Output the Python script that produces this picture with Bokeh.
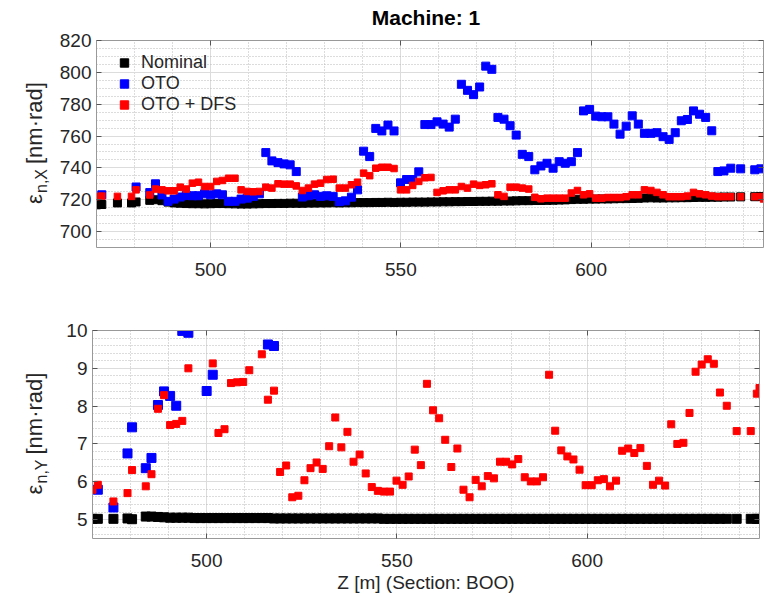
import math
import numpy as np
from bokeh.plotting import figure
from bokeh.layouts import column, row
from bokeh.models import (FixedTicker, LinearAxis, Range1d, Legend, LegendItem,
                          CustomJSTickFormatter)
from bokeh.core.properties import value
from bokeh.embed import file_html
from bokeh.resources import INLINE

FONT = "Liberation Sans"

# Longitudinal position of each monitor [m]
z = [470.0, 471.4, 475.5, 479.2, 480.4, 484.0, 485.5, 487.2, 488.8, 490.4,
     492.0, 493.6, 495.2, 496.8, 498.4, 500.0, 501.6, 503.1, 504.7, 506.4,
     508.0, 509.6, 511.2, 512.8, 514.5, 516.1, 517.7, 519.3, 520.9, 522.5,
     524.1, 525.7, 527.3, 528.9, 530.5, 532.2, 533.8, 535.4, 537.0, 538.6,
     540.2, 541.8, 543.4, 545.0, 546.6, 548.2, 549.9, 551.5, 553.1, 554.7,
     556.3, 557.9, 559.5, 561.1, 562.7, 564.3, 565.9, 567.5, 569.1, 570.7,
     572.3, 573.9, 575.5, 577.1, 578.7, 580.3, 581.9, 583.6, 585.2, 586.8,
     588.4, 590.0, 591.6, 593.2, 594.8, 596.4, 598.0, 599.6, 601.2, 602.8,
     604.4, 606.0, 607.6, 609.2, 610.8, 612.4, 614.0, 615.7, 617.3, 618.9,
     620.5, 622.1, 623.7, 625.3, 626.9, 628.5, 630.1, 631.7, 633.3, 634.9,
     636.7, 639.3, 643.0, 644.6, 645.3]

# Horizontal normalised emittance [nm rad]
emit_x_nominal = [716.8, 717.0, 718.0, 718.0, 718.6, 719.6, 720.0, 719.4, 718.5, 718.0,
                  717.8, 717.6, 717.5, 717.5, 717.4, 717.5, 717.6, 717.6, 717.5, 717.4,
                  717.3, 717.3, 717.4, 717.5, 717.6, 717.6, 717.7, 717.7, 717.8, 717.8,
                  717.8, 717.9, 717.9, 718.0, 718.0, 718.1, 718.0, 718.1, 718.1, 718.2,
                  718.2, 718.2, 718.3, 718.3, 718.4, 718.3, 718.4, 718.4, 718.5, 718.5,
                  718.5, 718.6, 718.6, 718.7, 718.7, 718.8, 718.8, 718.9, 718.9, 719.0,
                  719.0, 719.1, 719.1, 719.2, 719.2, 719.3, 719.4, 719.4, 719.5, 719.5,
                  719.6, 719.7, 719.8, 719.9, 720.1, 720.3, 720.3, 720.4, 720.4, 720.5,
                  720.5, 720.6, 720.7, 720.7, 720.8, 720.9, 721.1, 721.2, 721.1, 721.1,
                  721.2, 721.2, 721.3, 721.3, 721.4, 721.5, 721.5, 721.6, 721.6, 721.7,
                  721.7, 721.8, 721.9, 722.0, 722.0]

emit_x_oto = [None, 723.1, None, None, 728.0, 724.5, 730.0, 723.0, 719.0, 720.4,
              721.7, 722.7, 722.5, 722.5, 723.7, 723.1, 723.7, 723.1, 719.0, 719.0,
              720.4, 721.0, 722.1, 723.7, 749.6, 744.4, 743.3, 742.5, 741.9, 737.7,
              721.7, 722.5, 723.1, 722.1, 722.5, 722.1, 718.8, 719.3, 721.6, 726.2,
              750.5, 747.1, 764.8, 763.2, 766.9, 763.2, 730.6, 732.7, 732.7, 737.5,
              767.2, 767.2, 768.9, 767.5, 765.6, 770.6, 792.5, 788.7, 786.0, 790.8,
              803.9, 801.9, 771.7, 770.6, 766.5, 760.6, 748.5, 747.1, 738.8, 741.2,
              742.9, 739.8, 743.9, 742.9, 743.9, 749.6, 775.8, 776.7, 772.5, 772.1,
              772.1, 767.5, 761.2, 766.2, 772.7, 767.5, 761.7, 761.7, 762.1, 759.6,
              757.9, 762.1, 769.6, 770.4, 775.8, 773.7, 771.7, 763.3, 737.7, 738.1,
              739.8, 739.4, 738.8, 739.4, None]

emit_x_dfs = [722.0, 722.3, 722.1, 722.1, 726.2, 723.0, 726.7, 726.2, 725.6, 725.6,
              727.9, 726.7, 730.4, 731.0, 728.3, 728.3, 731.5, 732.1, 733.5, 733.5,
              726.2, 725.2, 725.0, 725.2, 727.9, 727.3, 730.0, 729.8, 729.8, 728.7,
              725.8, 727.3, 729.8, 730.4, 732.7, 732.9, 727.3, 727.3, 729.4, 731.0,
              736.7, 735.1, 739.8, 740.4, 740.4, 739.6, 726.2, 726.2, 729.0, 731.5,
              733.8, 734.0, 724.6, 725.6, 726.2, 726.2, 728.3, 727.3, 729.8, 729.0,
              729.4, 730.0, 723.1, 722.1, 727.9, 727.9, 727.3, 726.7, 721.5, 720.6,
              721.0, 721.0, 721.0, 721.0, 724.2, 725.8, 723.1, 723.7, 721.0, 721.0,
              721.4, 721.4, 721.4, 721.9, 723.1, 723.1, 726.2, 725.8, 724.6, 723.1,
              721.9, 721.9, 721.9, 722.3, 724.6, 723.7, 723.1, 722.3, 721.9, 721.9,
              721.9, 721.9, 721.9, 722.0, 720.5]

# Vertical normalised emittance [nm rad]
emit_y_nominal = [5.02, 5.02, 5.02, 5.03, 5.01, 5.08, 5.08, 5.07, 5.06, 5.05,
                  5.05, 5.05, 5.05, 5.04, 5.04, 5.04, 5.04, 5.04, 5.04, 5.04,
                  5.04, 5.04, 5.04, 5.04, 5.04, 5.04, 5.03, 5.03, 5.03, 5.03,
                  5.03, 5.03, 5.03, 5.03, 5.03, 5.03, 5.03, 5.03, 5.03, 5.03,
                  5.03, 5.03, 5.03, 5.03, 5.02, 5.02, 5.02, 5.02, 5.02, 5.02,
                  5.02, 5.02, 5.02, 5.02, 5.02, 5.02, 5.02, 5.02, 5.02, 5.02,
                  5.02, 5.02, 5.02, 5.02, 5.02, 5.02, 5.02, 5.02, 5.02, 5.02,
                  5.02, 5.02, 5.02, 5.02, 5.02, 5.02, 5.02, 5.02, 5.02, 5.02,
                  5.02, 5.02, 5.02, 5.02, 5.02, 5.02, 5.02, 5.02, 5.02, 5.02,
                  5.02, 5.02, 5.02, 5.02, 5.02, 5.02, 5.02, 5.02, 5.02, 5.02,
                  5.02, 5.02, 5.02, 5.02, 5.02]

emit_y_oto = [None, 5.79, 5.32, 6.75, 7.44, 6.36, 6.63, 8.03, 8.39, 8.27,
              8.01, 9.99, 9.94, None, None, 8.40, 8.83, None, None, None,
              None, None, None, None, None, 9.63, 9.59, None, None, None,
              None, None, None, None, None, None, None, None, None, None,
              None, None, None, None, None, None, None, None, None, None,
              None, None, None, None, None, None, None, None, None, None,
              None, None, None, None, None, None, None, None, None, None,
              None, None, None, None, None, None, None, None, None, None,
              None, None, None, None, None, None, None, None, None, None,
              None, None, None, None, None, None, None, None, None, None,
              None, None, None, None, None]

emit_y_dfs = [5.79, 5.92, 5.48, 5.70, 6.31, 5.88, 6.20, 7.93, 8.29, 7.50,
              7.53, 7.61, 9.00, None, None, None, 9.13, 7.29, 7.39, 8.61,
              8.63, 8.64, 8.95, None, 9.37, 8.17, 8.41, 6.26, 6.43, 5.59,
              5.63, 6.04, 6.36, 6.51, 6.34, 6.94, 7.70, 6.91, 7.32, 6.53,
              6.72, 6.22, 5.86, 5.76, 5.74, 5.74, 6.03, 5.92, 6.14, 6.85,
              6.44, 8.59, 7.89, 7.68, 7.11, 6.39, 6.88, 5.79, 5.59, 6.05,
              5.88, 6.15, 6.09, 6.53, 6.53, 6.46, 6.60, 6.12, 6.01, 6.01,
              6.12, 8.83, 7.35, 6.83, 6.67, 6.59, 6.32, 5.91, 5.91, 6.04,
              6.07, 5.88, 6.03, 6.82, 6.88, 6.76, 6.89, 6.42, 5.92, 6.03,
              5.90, 7.52, 7.00, 7.03, 7.82, 8.91, 9.10, 9.24, 9.12, 8.36,
              8.01, 7.34, 7.34, 8.33, 8.48]

x_ticks = [500, 550, 600]
x_minor = [470, 480, 490, 510, 520, 530, 540, 560, 570, 580, 590, 610, 620, 630, 640]
yx_ticks = [700, 720, 740, 760, 780, 800, 820]
yx_minor = [690, 695, 705, 710, 715, 725, 730, 735, 745, 750, 755, 765, 770, 775,
            785, 790, 795, 805, 810, 815]
yy_ticks = [5, 6, 7, 8, 9, 10]
yy_minor = [4.6, 4.8, 5.2, 5.4, 5.6, 5.8, 6.2, 6.4, 6.6, 6.8, 7.2, 7.4, 7.6, 7.8,
            8.2, 8.4, 8.6, 8.8, 9.2, 9.4, 9.6, 9.8]

PAGE_W = 765
TITLE_H = 30
LABEL_STRIP = 56      # width of the strip carrying the rotated y labels
FRAME_W = 667
FRAME_COL = "#999999"
TICK_COL = "#555555"
LABEL_COL = "#262626"


def style_axis(ax, ticker, show_labels):
    ax.ticker = ticker
    ax.axis_line_color = FRAME_COL
    ax.axis_line_width = 1
    ax.major_tick_line_color = TICK_COL
    ax.major_tick_in = 5
    ax.major_tick_out = 0
    ax.minor_tick_line_color = None
    ax.major_label_text_font = FONT
    ax.major_label_text_font_size = "19px"
    ax.major_label_text_color = LABEL_COL
    if not show_labels:
        ax.formatter = CustomJSTickFormatter(code="return ''")
        ax.major_label_text_font_size = "0px"
        ax.major_label_standoff = 0


def make_panel(frame_h, border_top, border_bottom, y_lo, y_hi, yt, ym):
    p = figure(frame_width=FRAME_W, frame_height=frame_h,
               min_border_left=92 - LABEL_STRIP, min_border_right=6,
               min_border_top=border_top, min_border_bottom=border_bottom,
               x_range=Range1d(470, 645.3), y_range=Range1d(y_lo, y_hi),
               output_backend="svg", toolbar_location=None)
    p.outline_line_color = None
    xt = FixedTicker(ticks=x_ticks, minor_ticks=x_minor)
    ytk = FixedTicker(ticks=yt, minor_ticks=ym)
    xax = p.below[0]
    yax = p.left[0]
    style_axis(xax, xt, True)
    style_axis(yax, ytk, True)
    xax.major_label_standoff = 11
    yax.major_label_standoff = 1
    top_ax = LinearAxis()
    right_ax = LinearAxis()
    style_axis(top_ax, FixedTicker(ticks=x_ticks), False)
    style_axis(right_ax, FixedTicker(ticks=yt), False)
    p.add_layout(top_ax, "above")
    p.add_layout(right_ax, "right")
    for g in (p.xgrid[0], p.ygrid[0]):
        g.grid_line_color = "#dcdcdc"
        g.grid_line_width = 1
        g.minor_grid_line_color = "#b8b8b8"
        g.minor_grid_line_dash = "1 2"
        g.minor_grid_line_width = 1
    p.xgrid.ticker = xt
    p.ygrid.ticker = ytk
    return p


def blank_canvas(w, frame_h, border_top=0, border_bottom=0):
    # text-only canvas; its y coordinates are pixels above the frame bottom
    f = figure(title=None, frame_width=w, frame_height=frame_h,
               x_range=Range1d(0, w), y_range=Range1d(0, frame_h),
               x_axis_type=None, y_axis_type=None,
               min_border_left=0, min_border_right=0,
               min_border_top=border_top, min_border_bottom=border_bottom,
               output_backend="svg", toolbar_location=None)
    f.outline_line_color = None
    f.grid.visible = False
    return f


def label_strip(frame_h, border_top, border_bottom, sub):
    # "ε_sub [nm·rad]" written upwards, centred on the plot frame
    f = blank_canvas(LABEL_STRIP, frame_h, border_top, border_bottom)
    y0 = frame_h / 2.0 + 2 - 62
    common = dict(angle=math.pi / 2, text_font=value(FONT), text_color=LABEL_COL,
                  text_align="left", text_baseline="middle")
    f.text(x=[34], y=[y0], text=["ε"], text_font_size=value("22px"), **common)
    f.text(x=[41], y=[y0 + 11], text=[sub], text_font_size=value("16px"), **common)
    f.text(x=[34], y=[y0 + 40], text=["[nm·rad]"], text_font_size=value("22px"), **common)
    return f


zx = np.array(z, dtype=float)

# Title line
head = blank_canvas(PAGE_W, TITLE_H)
head.text(x=[92 + FRAME_W / 2.0], y=[TITLE_H - 17], text=["Machine: 1"],
          text_font=value(FONT), text_font_size=value("21px"), text_font_style="bold",
          text_color="black", text_align="center", text_baseline="middle")

# Horizontal plane
top = make_panel(207, 40 - TITLE_H, 43, 690, 820, yx_ticks, yx_minor)
r_nom = top.scatter(zx, np.array(emit_x_nominal, dtype=float), marker="square", size=8,
                    color="black")
r_oto = top.scatter(zx, np.array(emit_x_oto, dtype=float), marker="square", size=8,
                    color="#0000ff")
r_dfs = top.scatter(zx, np.array(emit_x_dfs, dtype=float), marker="square", size=6.5,
                    color="#ff0000")

legend = Legend(items=[LegendItem(label="Nominal", renderers=[r_nom]),
                       LegendItem(label="OTO", renderers=[r_oto]),
                       LegendItem(label="OTO + DFS", renderers=[r_dfs])],
                location="top_left", margin=12, padding=0, spacing=0,
                glyph_width=32, glyph_height=21, label_height=21, label_standoff=1,
                label_text_font=FONT, label_text_font_size="18px",
                label_text_color=LABEL_COL,
                border_line_color=None, background_fill_alpha=0)
top.add_layout(legend)

# Vertical plane
bot = make_panel(208, 40, 59, 4.5, 10, yy_ticks, yy_minor)
bot.scatter(zx, np.array(emit_y_nominal, dtype=float), marker="square", size=9, color="black")
bot.scatter(zx, np.array(emit_y_oto, dtype=float), marker="square", size=9, color="#0000ff")
bot.scatter(zx, np.array(emit_y_dfs, dtype=float), marker="square", size=7, color="#ff0000")
xlab = bot.below[0]
xlab.axis_label = "Z [m] (Section: BOO)"
xlab.axis_label_text_font = FONT
xlab.axis_label_text_font_size = "19px"
xlab.axis_label_text_font_style = "normal"
xlab.axis_label_text_color = LABEL_COL
xlab.axis_label_standoff = 2

strip_top = label_strip(207, 40 - TITLE_H, 43, "n,X")
strip_bot = label_strip(208, 40, 59, "n,Y")

layout = column(head,
                row(strip_top, top, spacing=0),
                row(strip_bot, bot, spacing=0), spacing=0)
open("out.html", "w").write(file_html(layout, INLINE))
